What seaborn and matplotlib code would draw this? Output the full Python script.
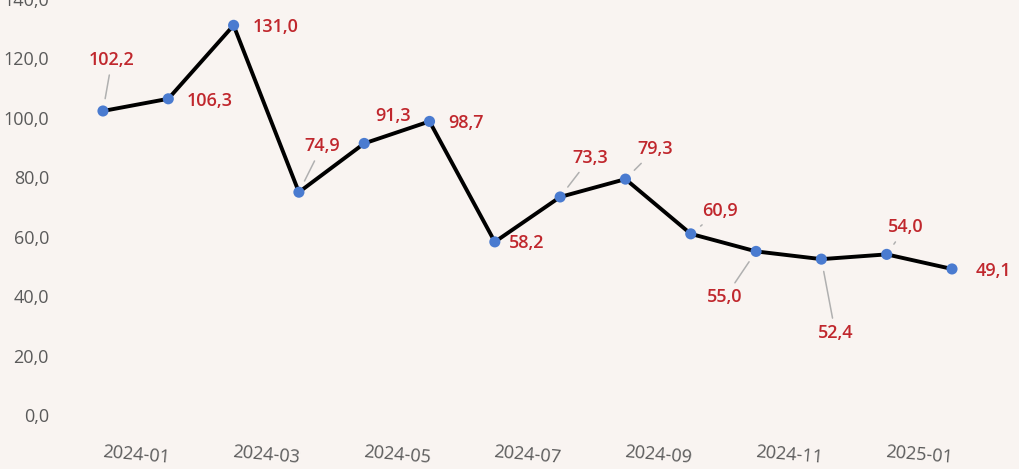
import seaborn as sns
import pandas as pd
import matplotlib
matplotlib.use("Agg")
import matplotlib.pyplot as plt

# data
months = ["2024-01", "2024-02", "2024-03", "2024-04", "2024-05", "2024-06", "2024-07",
          "2024-08", "2024-09", "2024-10", "2024-11", "2024-12", "2025-01", "2025-02"]
values = [102.2, 106.3, 131.0, 74.9, 91.3, 98.7, 58.2, 73.3, 79.3, 60.9, 55.0, 52.4, 54.0, 49.1]
y_ticks = [0, 20, 40, 60, 80, 100, 120, 140]

# label offsets (pixels) and which labels get a leader line
offsets = [(9, 51), (41, -2), (42, -2), (23, 46), (29, 27), (36, -2), (32, -1),
           (30, 39), (30, 30), (29, 23), (-31, -46), (14, -74), (19, 27), (41, -2)]
leaders = [True, False, False, True, False, False, False,
           True, True, True, True, True, True, False]

df = pd.DataFrame({"month": months, "value": values})
df["pos"] = range(len(df))

bg = "#f9f4f1"
sns.set_style("white")
plt.rcParams["font.family"] = ["Open Sans", "DejaVu Sans"]

fig = plt.figure(figsize=(10.2, 4.69), dpi=100, facecolor=bg)
ax = fig.add_axes([60 / 1020, 0.1151, 940 / 1020, 0.888])
ax.set_facecolor(bg)

sns.lineplot(data=df, x="pos", y="value", color="black", linewidth=2.8, ax=ax, zorder=2)
sns.scatterplot(data=df, x="pos", y="value", color="#4a7bd0", s=64, edgecolor="none", ax=ax, zorder=3)

for i, v in enumerate(values):
    kw = {}
    if leaders[i]:
        kw["arrowprops"] = dict(arrowstyle="-", color="#b0b0b0", lw=1.1, shrinkA=2, shrinkB=9)
    ax.annotate(f"{v:.1f}".replace(".", ","), (i, v), xytext=offsets[i], textcoords="offset pixels",
                ha="center", va="center", fontsize=13, color="#c0272d", fontweight="semibold", **kw)

ax.set_xlim(-0.658, 13.735)
ax.set_ylim(0, 140)
ax.set_yticks(y_ticks)
ax.set_yticklabels([f"{t:.1f}".replace(".", ",") for t in y_ticks], color="#5a5a5a", fontsize=13)
ax.set_xticks(df["pos"][::2])
ax.set_xticklabels(df["month"][::2], rotation=-5, ha="left", rotation_mode="anchor",
                   color="#5a5a5a", fontsize=13)
ax.tick_params(axis="x", length=0, pad=20)
ax.tick_params(axis="y", length=0, pad=8)
ax.set_xlabel("")
ax.set_ylabel("")
sns.despine(ax=ax, left=True, bottom=True)

fig.savefig("out.png", dpi=100, facecolor=bg)
